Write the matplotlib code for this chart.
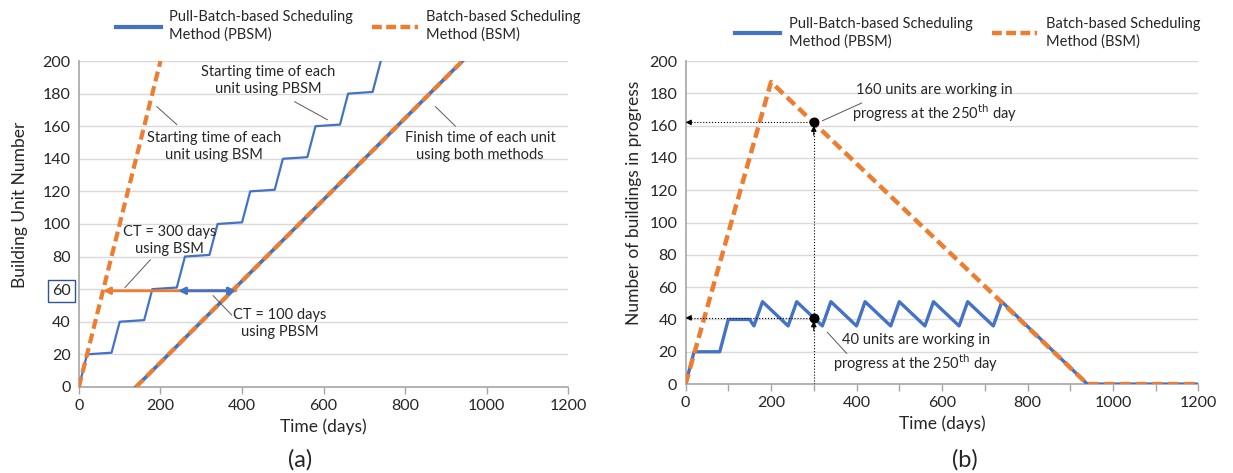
import matplotlib
matplotlib.use("Agg")
import matplotlib.pyplot as plt
from matplotlib.lines import Line2D

plt.rcParams['font.family'] = ['Lato', 'DejaVu Sans']

BLUE = '#4472C4'
ORANGE = '#ED7D31'
GRID = '#D9D9D9'
TXT = '#262626'

# ---- panel (a): start / finish times per building unit
a_pbsm_start_t = [0, 20, 80, 100, 160, 180, 240, 260, 320, 340, 400, 420,
                  480, 500, 560, 580, 640, 660, 720, 740]
a_pbsm_start_n = [0, 20, 21, 40, 41, 60, 61, 80, 81, 100, 101, 120,
                  121, 140, 141, 160, 161, 180, 181, 200]
a_bsm_start_t = [0, 200]
a_bsm_start_n = [0, 200]
a_finish_t = [140, 940]
a_finish_n = [0, 200]

# CT arrows at unit 60
ct_unit = 59
ct_bsm_from, ct_bsm_to = 385, 59
ct_pbsm_from, ct_pbsm_to = 243, 385

# ---- panel (b): buildings in progress
b_bsm_t = [0, 200, 940, 1200]
b_bsm_n = [0, 187, 0, 0]
b_pbsm_t = [0, 20, 80, 100, 150, 160, 180, 240, 260, 320, 340, 400, 420, 480,
            500, 560, 580, 640, 660, 720, 740, 940, 1200]
b_pbsm_n = [0, 20, 20, 40, 40, 36, 51, 36, 51, 36, 51, 36, 51, 36,
            51, 36, 51, 36, 51, 36, 51, 0, 0]
wip_day = 300
wip_bsm = 162
wip_pbsm = 41

x_ticks = [0, 200, 400, 600, 800, 1000, 1200]
y_ticks = list(range(0, 201, 20))

# annotation texts: (text, text centre, leader start, leader end)
notes_a = [
    ('Starting time of each\nunit using PBSM', (465, 188), (529, 175), (609, 164)),
    ('Starting time of each\nunit using BSM', (331, 147.5), (240, 161), (191, 172)),
    ('Finish time of each unit\nusing both methods', (984, 147.5), (923, 160), (874, 172)),
    ('CT = 300 days\nusing BSM', (222, 90), (175, 78), (113, 61)),
    ('CT = 100 days\nusing PBSM', (493, 39), (375, 44), (329, 56)),
]
notes_b = [
    ('160 units are working in\nprogress at the 250$^{\\mathrm{th}}$ day',
     (583, 173.5), (412, 174), (320, 163)),
    ('40 units are working in\nprogress at the 250$^{\\mathrm{th}}$ day',
     (538, 19), (377, 19), (332, 32)),
]

fig = plt.figure(figsize=(12.33, 4.73), dpi=100)
ax1 = fig.add_axes([0.064, 0.182, 0.397, 0.689])
ax2 = fig.add_axes([0.556, 0.188, 0.416, 0.683])

dash = (2.4, 1.2)


def style_axes(ax, minor):
    ax.set_xlim(0, 1200)
    ax.set_ylim(0, 200)
    ax.set_xticks(x_ticks)
    ax.set_yticks(y_ticks)
    if minor:
        ax.set_xticks(range(0, 1201, 100), minor=True)
        ax.tick_params(axis='x', which='minor', length=5, color='#A6A6A6', width=1)
    ax.yaxis.grid(True, color=GRID, lw=1)
    ax.set_axisbelow(True)
    for s in ['top', 'right']:
        ax.spines[s].set_visible(False)
    for s in ['left', 'bottom']:
        ax.spines[s].set_color('#A6A6A6')
        ax.spines[s].set_linewidth(1.2)
    ax.tick_params(axis='y', length=0, labelsize=11.5, labelcolor=TXT, pad=6)
    ax.tick_params(axis='x', which='major', length=5, color='#A6A6A6', width=1,
                   labelsize=11.5, labelcolor=TXT)
    ax.set_xlabel('Time (days)', fontsize=12.5, color=TXT, labelpad=4)


def add_legend(ax, ypos):
    handles = [Line2D([], [], color=BLUE, lw=3),
               Line2D([], [], color=ORANGE, lw=3.2, dashes=(2.2, 1.0))]
    labels = ['Pull-Batch-based Scheduling\nMethod (PBSM)',
              'Batch-based Scheduling\nMethod (BSM)']
    leg = ax.legend(handles, labels, loc='center', bbox_to_anchor=(0.55, ypos),
                    ncol=2, frameon=False, fontsize=10.5, handlelength=3.1,
                    columnspacing=1.3, handletextpad=0.6, labelcolor=TXT)
    for t in leg.get_texts():
        t.set_multialignment('left')
        t.set_linespacing(1.3)


def add_notes(ax, notes):
    for text, pos, p0, p1 in notes:
        ax.text(pos[0], pos[1], text, fontsize=10.5, color=TXT, ha='center',
                va='center', linespacing=1.3, zorder=8)
        ax.plot([p0[0], p1[0]], [p0[1], p1[1]], color='#595959', lw=0.7, zorder=8)


# ---------------- panel (a)
style_axes(ax1, minor=False)
ax1.set_ylabel('Building Unit Number', fontsize=12.5, color=TXT)
ax1.yaxis.set_label_coords(-0.104, 0.56)
ax1.plot(a_pbsm_start_t, a_pbsm_start_n, color=BLUE, lw=1.6, zorder=3)
ax1.plot(a_finish_t, a_finish_n, color=BLUE, lw=2.6, zorder=3)
ax1.plot(a_bsm_start_t, a_bsm_start_n, color=ORANGE, lw=3, dashes=dash, zorder=4)
ax1.plot(a_finish_t, a_finish_n, color=ORANGE, lw=3, dashes=dash, zorder=4)

ax1.annotate('', xy=(ct_bsm_to, ct_unit), xytext=(ct_bsm_from, ct_unit),
             arrowprops=dict(arrowstyle='-|>', color=ORANGE, lw=2,
                             mutation_scale=10, shrinkA=0, shrinkB=0), zorder=5)
ax1.annotate('', xy=(ct_pbsm_from, ct_unit), xytext=(ct_pbsm_to, ct_unit),
             arrowprops=dict(arrowstyle='<|-|>', color=BLUE, lw=2,
                             mutation_scale=10, shrinkA=0, shrinkB=0), zorder=6)

for lbl in ax1.get_yticklabels():
    if lbl.get_text() == '60':
        lbl.set_bbox(dict(boxstyle='square,pad=0.25', fc='none', ec='#2F5597', lw=1))

add_notes(ax1, notes_a)
add_legend(ax1, 1.107)

# ---------------- panel (b)
style_axes(ax2, minor=True)
ax2.set_ylabel('Number of buildings in progress', fontsize=12.5, color=TXT)
ax2.yaxis.set_label_coords(-0.084, 0.56)
ax2.plot(b_pbsm_t, b_pbsm_n, color=BLUE, lw=2.4, zorder=3)
ax2.plot(b_bsm_t, b_bsm_n, color=ORANGE, lw=3.2, dashes=dash, zorder=4)

# dotted guide lines with arrowheads
ax2.plot([wip_day, wip_day], [0, wip_bsm - 3], color='black', lw=0.8, ls=':', zorder=5)
for yv in [wip_bsm, wip_pbsm]:
    ax2.plot([6, wip_day], [yv, yv], color='black', lw=0.8, ls=':', zorder=5)
    ax2.annotate('', xy=(0, yv), xytext=(14, yv),
                 arrowprops=dict(arrowstyle='-|>', color='black', lw=0.8,
                                 mutation_scale=8, shrinkA=0, shrinkB=0))
    ax2.annotate('', xy=(wip_day, yv - 2), xytext=(wip_day, yv - 8),
                 arrowprops=dict(arrowstyle='-|>', color='black', lw=0.8,
                                 mutation_scale=8, shrinkA=0, shrinkB=0))
ax2.scatter([wip_day, wip_day], [wip_bsm, wip_pbsm], s=38, color='black', zorder=7)

add_notes(ax2, notes_b)
add_legend(ax2, 1.087)

fig.text(300 / 1233, 1 - 460 / 473, '(a)', fontsize=17, ha='center', va='center', color=TXT)
fig.text(965 / 1233, 1 - 460 / 473, '(b)', fontsize=17, ha='center', va='center', color=TXT)

fig.savefig('out.png', dpi=100)
